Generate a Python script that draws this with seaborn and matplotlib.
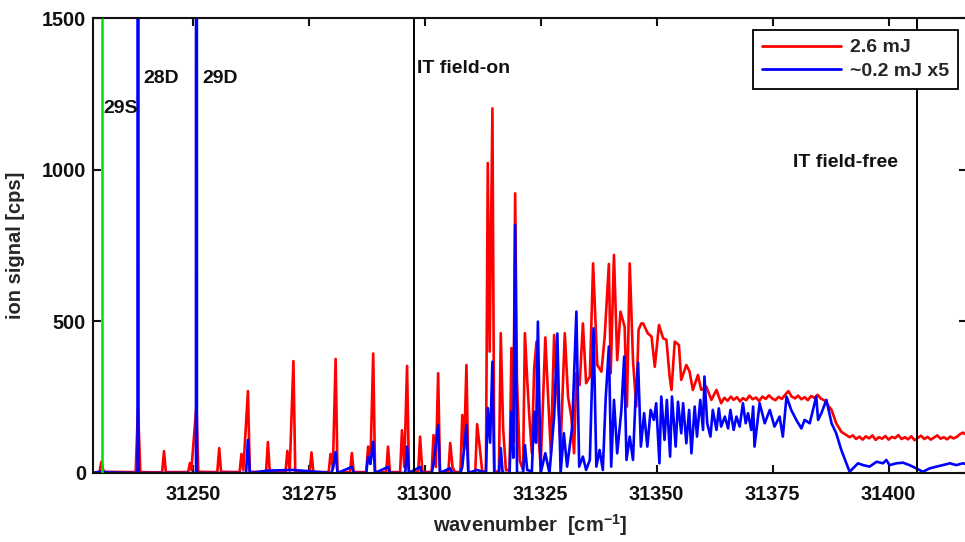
import matplotlib
matplotlib.use("Agg")
import matplotlib.pyplot as plt
import seaborn as sns
import pandas as pd

# ---------------- data ----------------
# red trace (2.6 mJ): discrete Rydberg peaks region
red_x_peaks = [31228.6, 31229.9, 31230.3, 31230.8, 31237.7, 31238.2, 31238.7, 31243.4, 31243.8, 31244.2,
               31249.0, 31249.4, 31249.7, 31250.8, 31251.2, 31255.3, 31255.7, 31256.1, 31260.1, 31260.5,
               31260.9, 31261.9, 31262.3, 31265.8, 31266.2, 31266.6, 31270.0, 31270.4, 31270.9, 31271.7,
               31272.1, 31275.2, 31275.6, 31276.0, 31279.3, 31279.7, 31280.2, 31280.8, 31281.2, 31283.9,
               31284.3, 31284.7, 31287.4, 31287.8, 31288.3, 31288.9, 31289.3, 31291.7, 31292.1, 31292.5,
               31294.7, 31295.1, 31295.6, 31296.2, 31296.6, 31298.6, 31299.0, 31299.5, 31301.5, 31301.9,
               31302.4, 31302.9, 31303.3, 31305.1, 31305.5, 31306.0, 31306.5, 31307.7, 31308.1, 31308.5,
               31309.0, 31309.4, 31310.9, 31311.3, 31311.9, 31312.4, 31313.2, 31313.6, 31314.0, 31314.6,
               31315.0, 31316.0, 31316.4, 31316.9, 31317.5, 31318.3, 31318.7, 31319.1, 31319.5, 31319.9,
               31320.5, 31321.2, 31321.6]
red_y_peaks = [2, 3, 37, 4, 3, 214, 3, 2, 72, 3,
               3, 33, 10, 224, 4, 3, 82, 4, 3, 63,
               10, 270, 4, 3, 102, 4, 3, 73, 8, 369,
               3, 3, 68, 3, 3, 63, 15, 376, 3, 3,
               66, 3, 3, 87, 30, 394, 4, 3, 87, 3,
               3, 141, 20, 353, 4, 3, 120, 4, 3, 125,
               20, 329, 3, 3, 99, 20, 3, 3, 191, 80,
               356, 3, 3, 161, 80, 5, 5, 1022, 400, 1202,
               5, 5, 461, 150, 10, 10, 412, 100, 922, 300,
               40, 10, 461]

# red trace: quasi-continuum and field-free plateau
red_x_band = [31322.1, 31322.6, 31323.1, 31323.6, 31324.1, 31324.4, 31325.0, 31326.0, 31326.6, 31327.2,
              31327.9, 31328.6, 31329.3, 31330.2, 31330.9, 31331.6, 31332.2, 31332.7, 31333.4, 31334.1,
              31334.8, 31335.6, 31336.3, 31337.2, 31338.1, 31338.8, 31339.7, 31340.1, 31340.8, 31341.5,
              31342.2, 31343.1, 31343.6, 31344.2, 31344.9, 31345.6, 31346.1, 31346.7, 31347.1, 31348.1,
              31348.9, 31349.6, 31350.5, 31351.4, 31352.1, 31352.8, 31353.2, 31353.9, 31354.8, 31355.3,
              31356.4, 31357.1, 31357.8, 31358.9, 31359.6, 31360.7, 31361.8, 31362.9, 31363.9, 31364.6,
              31365.3, 31366.0, 31366.6, 31367.3, 31368.0, 31368.6, 31369.3, 31370.0, 31370.7, 31371.4,
              31372.1, 31372.8, 31373.5, 31374.2, 31374.9, 31375.6, 31376.3, 31377.0, 31377.7, 31378.4,
              31379.1, 31379.8, 31380.5, 31381.2, 31381.9, 31382.6, 31383.3, 31384.0, 31384.7, 31385.4,
              31386.1, 31386.6, 31387.7, 31388.7, 31389.8, 31390.9, 31391.6, 31392.3, 31393.0, 31393.7,
              31394.4, 31395.1, 31395.8, 31396.5, 31397.2, 31397.9, 31398.6, 31399.3, 31400.0, 31400.7,
              31401.4, 31402.1, 31402.8, 31403.5, 31404.2, 31404.9, 31405.6, 31406.3, 31407.0, 31407.7,
              31408.4, 31409.1, 31409.8, 31410.5, 31411.2, 31411.9, 31412.6, 31413.3, 31414.0, 31414.7,
              31415.4, 31416.0, 31417.0]
red_y_band = [307, 175, 65, 345, 433, 153, 21, 447, 252, 65,
              455, 263, 87, 461, 252, 186, 65, 329, 290, 493,
              296, 318, 691, 356, 334, 449, 689, 329, 719, 372,
              532, 482, 219, 691, 372, 219, 472, 493, 493, 460,
              450, 350, 488, 444, 439, 318, 274, 433, 422, 307,
              356, 334, 274, 323, 274, 285, 241, 274, 230, 248,
              238, 252, 241, 250, 236, 247, 240, 255, 243, 249,
              237, 252, 244, 256, 246, 240, 251, 244, 258, 270,
              252, 246, 255, 243, 250, 240, 254, 247, 258, 245,
              240, 230, 208, 164, 136, 125, 118, 124, 112, 120,
              110, 121, 114, 124, 109, 118, 113, 122, 110, 119,
              115, 125, 112, 118, 111, 121, 108, 116, 123, 112,
              119, 110, 117, 124, 113, 118, 111, 120, 114, 119,
              128, 133, 125]

# blue trace (~0.2 mJ x5): discrete region (28D and 29D go far off scale)
blue_x_peaks = [31228.6, 31230.3, 31231.5, 31238.1, 31238.2, 31238.3, 31250.7, 31250.8, 31250.9, 31261.5,
                31261.9, 31262.3, 31266.2, 31271.7, 31279.9, 31280.3, 31280.8, 31281.2, 31284.3, 31284.7,
                31287.4, 31287.8, 31288.3, 31288.9, 31289.3, 31292.1, 31292.5, 31295.8, 31296.2, 31296.6,
                31299.0, 31299.4, 31301.5, 31301.9, 31302.9, 31303.3, 31305.5, 31305.9, 31307.7, 31308.1,
                31309.0, 31309.4, 31311.3, 31313.2, 31313.6, 31314.1, 31314.6, 31315.0, 31316.0, 31316.4,
                31316.8, 31318.3, 31318.7, 31319.1, 31319.5, 31319.9, 31321.2, 31321.6, 31322.1, 31323.1,
                31323.6, 31324.0, 31324.4, 31325.0]
blue_y_peaks = [0, 5, 2, 0, 20000, 0, 0, 20000, 0, 0,
                109, 0, 8, 10, 0, 20, 69, 0, 20, 0,
                0, 54, 30, 103, 0, 20, 0, 0, 87, 0,
                20, 0, 0, 30, 158, 0, 16, 0, 0, 20,
                158, 0, 10, 0, 214, 100, 367, 0, 0, 82,
                0, 0, 202, 50, 818, 0, 0, 92, 10, 5,
                202, 100, 499, 0]

# blue trace: quasi-continuum and field-free plateau
blue_x_band = [31326.0, 31326.9, 31327.9, 31328.6, 31329.3, 31330.0, 31330.7, 31331.8, 31332.7, 31333.3,
               31334.1, 31334.8, 31335.6, 31336.4, 31337.0, 31337.7, 31338.4, 31339.0, 31339.7, 31340.2,
               31340.8, 31341.5, 31342.4, 31343.0, 31343.5, 31344.2, 31344.9, 31345.4, 31346.0, 31346.6,
               31347.3, 31348.0, 31348.7, 31349.4, 31349.9, 31350.6, 31351.0, 31351.7, 31352.2, 31352.9,
               31353.3, 31354.1, 31354.6, 31355.3, 31355.7, 31356.4, 31357.0, 31357.5, 31358.2, 31358.7,
               31359.4, 31360.0, 31360.3, 31360.9, 31361.6, 31362.1, 31362.9, 31363.4, 31363.9, 31364.7,
               31365.4, 31365.9, 31366.6, 31367.2, 31367.9, 31368.6, 31369.2, 31369.7, 31370.4, 31370.8,
               31371.1, 31372.2, 31373.3, 31374.4, 31375.4, 31376.5, 31377.2, 31378.0, 31379.0, 31380.1,
               31381.2, 31381.9, 31383.0, 31383.7, 31384.4, 31384.8, 31385.5, 31386.6, 31387.7, 31388.7,
               31389.8, 31390.9, 31391.6, 31392.7, 31393.4, 31394.5, 31395.9, 31397.4, 31398.8, 31399.5,
               31400.2, 31401.7, 31403.1, 31404.5, 31406.0, 31407.4, 31408.8, 31410.3, 31411.7, 31413.2,
               31414.6, 31416.0, 31417.0]
blue_y_band = [65, 0, 186, 460, 0, 131, 21, 153, 532, 21,
               54, 10, 43, 477, 21, 76, 10, 241, 417, 21,
               241, 65, 208, 384, 43, 120, 43, 230, 364, 87,
               197, 87, 208, 175, 230, 32, 252, 109, 241, 54,
               252, 87, 235, 131, 230, 98, 208, 65, 219, 120,
               241, 142, 318, 164, 120, 208, 142, 213, 153, 186,
               147, 208, 142, 186, 153, 230, 164, 197, 142, 219,
               87, 230, 164, 208, 153, 186, 120, 252, 208, 175,
               147, 175, 164, 208, 252, 175, 197, 241, 164, 131,
               76, 32, 4, 21, 32, 26, 21, 37, 32, 43,
               26, 32, 34, 26, 15, 4, 15, 21, 26, 32,
               26, 32, 28]

# reference lines and labels
green_line_x = [31230.4]
field_lines_x = [31297.8, 31406.2]
label_texts = ["29S", "28D", "29D", "IT field-on", "IT field-free"]
label_x = [31230.7, 31239.3, 31252.0, 31298.3, 31379.3]
label_y = [1203, 1302, 1302, 1335, 1025]
x_ticks = [31250, 31275, 31300, 31325, 31350, 31375, 31400]
y_ticks = [0, 500, 1000, 1500]
series_names = ["2.6 mJ", "~0.2 mJ x5"]

# ---------------- styling ----------------
sns.set_theme(style="ticks")
plt.rcParams["font.family"] = ["Liberation Sans", "DejaVu Sans"]
plt.rcParams["font.weight"] = "bold"
plt.rcParams["axes.labelweight"] = "bold"
plt.rcParams["mathtext.fontset"] = "custom"
plt.rcParams["mathtext.rm"] = "Liberation Sans:bold"
plt.rcParams["mathtext.default"] = "rm"

fig = plt.figure(figsize=(9.65, 5.42), dpi=100)
fig.patch.set_facecolor("white")
ax = fig.add_axes([93 / 965, 69 / 542, 874 / 965, 455 / 542])
ax.set_facecolor("white")

red_df = pd.DataFrame({"x": red_x_peaks + red_x_band, "y": red_y_peaks + red_y_band})
blue_df = pd.DataFrame({"x": blue_x_peaks + blue_x_band, "y": blue_y_peaks + blue_y_band})

sns.lineplot(data=red_df, x="x", y="y", ax=ax, color="#ff0000", lw=1.9,
             estimator=None, sort=False, label=series_names[0])
sns.lineplot(data=blue_df, x="x", y="y", ax=ax, color="#0000ff", lw=1.9,
             estimator=None, sort=False, label=series_names[1])

ax.vlines(green_line_x, 0, 1500, color="#00e000", lw=1.8, zorder=3)
for xv in field_lines_x:
    ax.axvline(xv, color="black", lw=1.4, zorder=4)

for t, xv, yv in zip(label_texts, label_x, label_y):
    ax.text(xv, yv, t, ha="left", va="center", fontsize=14, fontweight="bold", color="#111111")

ax.set_xlim(31228.5, 31416.9)
ax.set_ylim(0, 1500)
ax.set_xticks(x_ticks)
ax.set_yticks(y_ticks)
ax.tick_params(direction="in", top=True, right=True, length=5.5, width=1.5,
               labelsize=14.3, colors="#111111")
ax.tick_params(axis="x", pad=8.5)
ax.tick_params(axis="y", pad=5)
for lab in ax.get_xticklabels() + ax.get_yticklabels():
    lab.set_fontweight("bold")
for sp in ax.spines.values():
    sp.set_linewidth(1.5)
    sp.set_color("#111111")

ax.set_xlabel("wavenumber  [cm$^{-1}$]", fontsize=14.5, fontweight="bold", labelpad=6)
ax.set_ylabel("ion signal [cps]", fontsize=14.5, fontweight="bold", labelpad=12)

leg = ax.legend(loc="upper left", bbox_to_anchor=(753 / 965, 1 - 30 / 542),
                bbox_transform=fig.transFigure, borderaxespad=0, fancybox=False,
                edgecolor="black", framealpha=1, fontsize=14, handlelength=4.1,
                handletextpad=0.45, labelspacing=0.3, borderpad=0.45)
leg.get_frame().set_linewidth(1.3)
for txt in leg.get_texts():
    txt.set_fontweight("bold")
for h in leg.get_lines():
    h.set_linewidth(2.0)

fig.savefig("out.png", dpi=100)
